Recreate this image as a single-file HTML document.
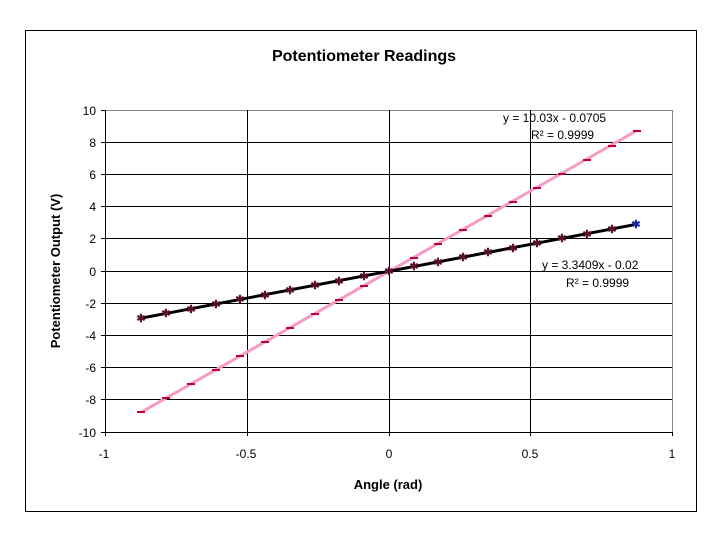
<!DOCTYPE html>
<html><head><style>body{margin:0;background:#fff}svg{display:block}</style></head><body>
<svg width="720" height="540" xmlns="http://www.w3.org/2000/svg" font-family="Liberation Sans, sans-serif">
<rect x="0" y="0" width="720" height="540" fill="#fff"/>
<rect x="25.5" y="30.5" width="671" height="481" fill="#fff" stroke="#000" stroke-width="1"/>
<text x="364" y="61" font-size="16" font-weight="bold" text-anchor="middle">Potentiometer Readings</text>
<g stroke="#000" stroke-width="1">
<line x1="105" y1="110.5" x2="673" y2="110.5" stroke="#888"/>
<line x1="105" y1="142.5" x2="673" y2="142.5"/>
<line x1="105" y1="174.5" x2="673" y2="174.5"/>
<line x1="105" y1="206.5" x2="673" y2="206.5"/>
<line x1="105" y1="238.5" x2="673" y2="238.5"/>
<line x1="105" y1="271.5" x2="673" y2="271.5"/>
<line x1="105" y1="303.5" x2="673" y2="303.5"/>
<line x1="105" y1="335.5" x2="673" y2="335.5"/>
<line x1="105" y1="367.5" x2="673" y2="367.5"/>
<line x1="105" y1="399.5" x2="673" y2="399.5"/>
<line x1="105" y1="432.5" x2="673" y2="432.5"/>
<line x1="247.5" y1="110" x2="247.5" y2="432"/>
<line x1="389.5" y1="110" x2="389.5" y2="432"/>
<line x1="530.5" y1="110" x2="530.5" y2="432"/>
<line x1="672.5" y1="110" x2="672.5" y2="432" stroke="#888"/>
<line x1="105.5" y1="110" x2="105.5" y2="436"/>
</g>
<g stroke="#000">
<line x1="101" y1="110.5" x2="105" y2="110.5"/><line x1="101" y1="142.5" x2="105" y2="142.5"/><line x1="101" y1="174.5" x2="105" y2="174.5"/><line x1="101" y1="206.5" x2="105" y2="206.5"/><line x1="101" y1="238.5" x2="105" y2="238.5"/><line x1="101" y1="271.5" x2="105" y2="271.5"/><line x1="101" y1="303.5" x2="105" y2="303.5"/><line x1="101" y1="335.5" x2="105" y2="335.5"/><line x1="101" y1="367.5" x2="105" y2="367.5"/><line x1="101" y1="399.5" x2="105" y2="399.5"/><line x1="101" y1="432.5" x2="105" y2="432.5"/>
<line x1="247.5" y1="432" x2="247.5" y2="436"/><line x1="389.5" y1="432" x2="389.5" y2="436"/><line x1="530.5" y1="432" x2="530.5" y2="436"/><line x1="672.5" y1="432" x2="672.5" y2="436"/>
</g>
<g font-size="12" text-anchor="end">
<text x="96" y="115">10</text><text x="96" y="147">8</text><text x="96" y="179">6</text><text x="96" y="211">4</text><text x="96" y="243">2</text><text x="96" y="276">0</text><text x="96" y="308">-2</text><text x="96" y="340">-4</text><text x="96" y="372">-6</text><text x="96" y="404">-8</text><text x="96" y="437">-10</text>
</g>
<g font-size="12" text-anchor="middle">
<text x="104" y="458">-1</text><text x="246" y="458">-0.5</text><text x="389" y="458">0</text><text x="530" y="458">0.5</text><text x="672" y="458">1</text>
</g>
<text x="388" y="489" font-size="13" font-weight="bold" text-anchor="middle">Angle (rad)</text>
<text transform="translate(60,271) rotate(-90)" font-size="13" font-weight="bold" text-anchor="middle">Potentiometer Output (V)</text>
<g id="lines"></g>
<line x1="141" y1="412.3" x2="637" y2="130.5" stroke="#f79bc6" stroke-width="3"/>
<line x1="141" y1="318.2" x2="637" y2="224.2" stroke="#000" stroke-width="3"/>
<g stroke="#c0003c" stroke-width="2">
<line x1="137" y1="412" x2="145" y2="412"/><line x1="162" y1="398" x2="170" y2="398"/><line x1="187" y1="384" x2="195" y2="384"/><line x1="212" y1="370" x2="220" y2="370"/><line x1="236" y1="356" x2="244" y2="356"/><line x1="261" y1="342" x2="269" y2="342"/><line x1="286" y1="328" x2="294" y2="328"/><line x1="311" y1="314" x2="319" y2="314"/><line x1="335" y1="300" x2="343" y2="300"/><line x1="360" y1="286" x2="368" y2="286"/><line x1="385" y1="272" x2="393" y2="272"/><line x1="410" y1="258" x2="418" y2="258"/><line x1="434" y1="244" x2="442" y2="244"/><line x1="459" y1="230" x2="467" y2="230"/><line x1="484" y1="216" x2="492" y2="216"/><line x1="509" y1="202" x2="517" y2="202"/><line x1="533" y1="188" x2="541" y2="188"/><line x1="558" y1="174" x2="566" y2="174"/><line x1="583" y1="160" x2="591" y2="160"/><line x1="608" y1="146" x2="616" y2="146"/><line x1="633" y1="131" x2="641" y2="131"/>
</g>
<g font-size="11" font-weight="bold" text-anchor="middle" fill="#5a1030">
<text x="141" y="322">✱</text><text x="166" y="317">✱</text><text x="191" y="313">✱</text><text x="216" y="308">✱</text><text x="240" y="303">✱</text><text x="265" y="299">✱</text><text x="290" y="294">✱</text><text x="315" y="289">✱</text><text x="339" y="285">✱</text><text x="364" y="280">✱</text><text x="389" y="275">✱</text><text x="414" y="270">✱</text><text x="438" y="266">✱</text><text x="463" y="261">✱</text><text x="488" y="256">✱</text><text x="513" y="252">✱</text><text x="537" y="247">✱</text><text x="562" y="242">✱</text><text x="587" y="238">✱</text><text x="612" y="233">✱</text><text x="636" y="228" fill="#2020a0">✱</text>
</g>
<g font-size="12" fill="#000">
<text x="503" y="122">y = 10.03x - 0.0705</text>
<text x="531" y="139">R² = 0.9999</text>
<text x="542" y="269">y = 3.3409x - 0.02</text>
<text x="566" y="287">R² = 0.9999</text>
</g>
</svg>
</body></html>
